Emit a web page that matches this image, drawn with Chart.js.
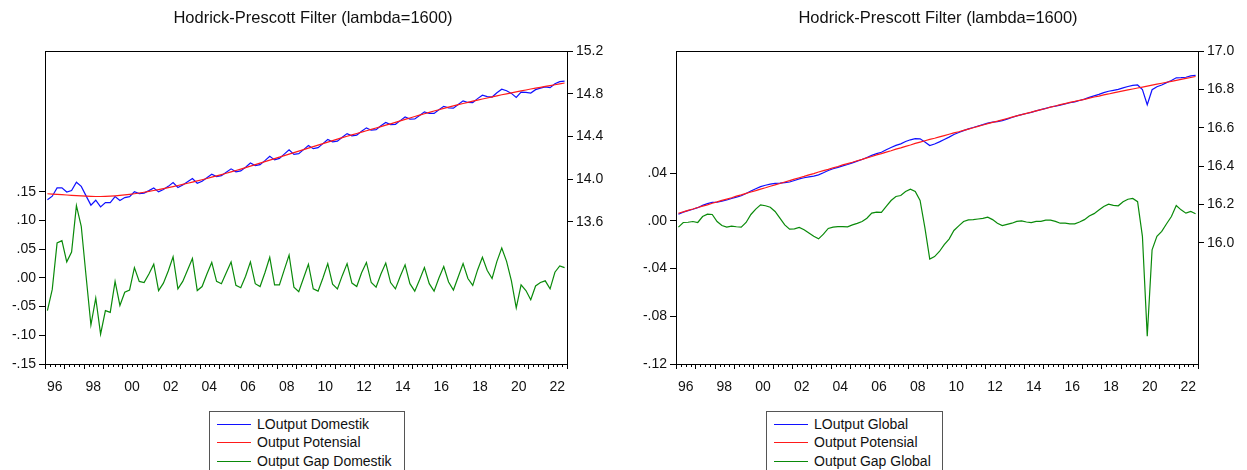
<!DOCTYPE html>
<html>
<head>
<meta charset="utf-8">
<script src="https://cdn.jsdelivr.net/npm/chart.js@4.4.1/dist/chart.umd.min.js"></script>
<style>
  html, body { margin: 0; padding: 0; background: #fff; }
  body { width: 1247px; height: 470px; position: relative; overflow: hidden; font-family: "Liberation Sans", Arial, sans-serif; }
  .wrap { position: absolute; top: 0; height: 400px; }
  .title { position: absolute; top: 8px; font-size: 16.5px; color: #111; white-space: nowrap; transform: translateX(-50%); }
  .legend { position: absolute; top: 411px; height: 80px; border: 1px solid #555; background: #fff; font-size: 14px; color: #111; }
  .legend .row { position: absolute; left: 0; height: 18px; white-space: nowrap; }
  .legend .sw { position: absolute; top: 9px; width: 34px; height: 0; border-top: 1px solid; }
  .legend .tx { position: absolute; top: 0; line-height: 18px; }
</style>
</head>
<body>
<div class="wrap" style="left:0;width:620px"><canvas id="c1"></canvas></div>
<div class="wrap" style="left:620px;width:627px"><canvas id="c2"></canvas></div>
<div class="title" id="t1" style="left:313px"></div>
<div class="title" id="t2" style="left:938px"></div>
<div class="legend" id="lg1" style="left:209px;width:194px"></div>
<div class="legend" id="lg2" style="left:766px;width:175px"></div>
<script>
// ---------- DATA ----------
const chartTitle = "Hodrick-Prescott Filter (lambda=1600)";
const quarters = [];
for (let y = 1996; y <= 2022; y++) for (let q = 1; q <= 4; q++) quarters.push(y + "Q" + q);
const yearTickLabels = ["96","98","00","02","04","06","08","10","12","14","16","18","20","22"];

const seriesNamesDom = ["LOutput Domestik", "Output Potensial", "Output Gap Domestik"];
const seriesNamesGlob = ["LOutput Global", "Output Potensial", "Output Gap Global"];

// Domestic (left chart): level and trend on right axis, gap on left axis
const domLevel = [
13.806,13.840,13.918,13.919,13.879,13.893,13.971,13.932,13.843,13.756,13.802,13.739,13.781,13.780,13.837,13.799,
13.827,13.836,13.881,13.864,13.869,13.892,13.917,13.880,13.902,13.932,13.967,13.921,13.944,13.975,14.006,13.961,
13.979,14.013,14.045,14.024,14.032,14.064,14.096,14.068,14.077,14.111,14.150,14.126,14.135,14.173,14.214,14.180,
14.194,14.234,14.274,14.232,14.238,14.276,14.314,14.285,14.295,14.332,14.371,14.349,14.355,14.392,14.426,14.405,
14.412,14.449,14.480,14.458,14.463,14.499,14.531,14.510,14.513,14.548,14.582,14.562,14.563,14.596,14.630,14.615,
14.615,14.650,14.682,14.667,14.665,14.699,14.733,14.718,14.717,14.754,14.786,14.773,14.769,14.809,14.842,14.828,
14.803,14.765,14.814,14.813,14.806,14.838,14.852,14.863,14.857,14.894,14.913,14.918];
const domTrend = [
13.863,13.860,13.857,13.854,13.851,13.848,13.845,13.842,13.840,13.838,13.837,13.837,13.838,13.840,13.843,13.847,
13.852,13.857,13.863,13.870,13.877,13.885,13.893,13.902,13.911,13.920,13.930,13.940,13.950,13.961,13.972,13.983,
13.994,14.006,14.018,14.030,14.042,14.055,14.068,14.081,14.094,14.108,14.122,14.136,14.150,14.164,14.178,14.192,
14.206,14.220,14.234,14.248,14.262,14.276,14.290,14.304,14.318,14.332,14.346,14.360,14.374,14.388,14.401,14.414,
14.427,14.440,14.453,14.466,14.479,14.492,14.505,14.518,14.532,14.545,14.559,14.572,14.586,14.599,14.612,14.625,
14.638,14.650,14.662,14.674,14.686,14.697,14.708,14.719,14.730,14.740,14.750,14.760,14.770,14.780,14.790,14.799,
14.808,14.817,14.826,14.835,14.844,14.852,14.860,14.868,14.876,14.884,14.892,14.900];
const domGap = [
-0.057,-0.020,0.061,0.065,0.028,0.045,0.126,0.090,0.003,-0.082,-0.035,-0.098,-0.057,-0.060,-0.006,-0.048,
-0.025,-0.021,0.018,-0.006,-0.008,0.007,0.024,-0.022,-0.009,0.012,0.037,-0.019,-0.006,0.014,0.034,-0.022,
-0.015,0.007,0.027,-0.006,-0.010,0.009,0.028,-0.013,-0.017,0.003,0.028,-0.010,-0.015,0.009,0.036,-0.012,
-0.012,0.014,0.040,-0.016,-0.024,0.000,0.024,-0.019,-0.023,0.000,0.025,-0.011,-0.019,0.004,0.025,-0.009,
-0.015,0.009,0.027,-0.008,-0.016,0.007,0.026,-0.008,-0.019,0.003,0.023,-0.010,-0.023,-0.003,0.018,-0.010,
-0.023,0.000,0.020,-0.007,-0.021,0.002,0.025,-0.001,-0.013,0.014,0.036,0.013,-0.001,0.029,0.052,0.029,
-0.005,-0.052,-0.012,-0.022,-0.038,-0.014,-0.008,-0.005,-0.019,0.010,0.021,0.018];

// Global (right chart)
const globLevel = [
16.149,16.160,16.168,16.175,16.183,16.195,16.204,16.211,16.212,16.217,16.223,16.231,16.238,16.245,16.257,16.270,
16.282,16.293,16.300,16.306,16.310,16.311,16.314,16.317,16.325,16.333,16.339,16.344,16.348,16.354,16.365,16.377,
16.386,16.393,16.401,16.408,16.417,16.426,16.434,16.445,16.456,16.465,16.472,16.485,16.497,16.508,16.516,16.528,
16.537,16.543,16.542,16.526,16.507,16.515,16.526,16.539,16.551,16.565,16.575,16.585,16.594,16.601,16.609,16.616,
16.624,16.629,16.632,16.637,16.645,16.653,16.662,16.668,16.674,16.680,16.688,16.694,16.701,16.708,16.713,16.718,
16.724,16.730,16.735,16.742,16.749,16.758,16.766,16.774,16.783,16.790,16.795,16.800,16.808,16.815,16.821,16.823,
16.799,16.720,16.798,16.814,16.823,16.835,16.846,16.860,16.861,16.863,16.870,16.873];
const globTrend = [
16.154,16.161,16.169,16.176,16.184,16.191,16.198,16.206,16.213,16.221,16.228,16.235,16.243,16.250,16.258,16.265,
16.272,16.280,16.287,16.295,16.302,16.309,16.317,16.324,16.332,16.339,16.346,16.354,16.361,16.369,16.376,16.383,
16.391,16.398,16.406,16.413,16.420,16.428,16.435,16.443,16.450,16.458,16.465,16.473,16.480,16.488,16.495,16.503,
16.510,16.518,16.525,16.532,16.539,16.545,16.552,16.559,16.566,16.573,16.579,16.586,16.593,16.600,16.607,16.614,
16.621,16.628,16.634,16.641,16.648,16.655,16.662,16.668,16.675,16.681,16.688,16.694,16.700,16.707,16.713,16.720,
16.726,16.732,16.737,16.743,16.748,16.754,16.760,16.765,16.771,16.776,16.782,16.787,16.792,16.797,16.802,16.807,
16.812,16.817,16.822,16.827,16.832,16.837,16.842,16.847,16.852,16.857,16.862,16.867];
const globGap = [
-0.0053,-0.0014,-0.0012,-0.0006,-0.0014,0.0036,0.0056,0.0053,-0.0006,-0.0039,-0.0053,-0.0045,-0.0050,-0.0053,-0.0014,0.0053,
0.0098,0.0134,0.0126,0.0114,0.0078,0.0022,-0.0034,-0.0070,-0.0067,-0.0056,-0.0075,-0.0103,-0.0130,-0.0151,-0.0112,-0.0064,
-0.0053,-0.0048,-0.0048,-0.0050,-0.0034,-0.0022,-0.0006,0.0022,0.0064,0.0073,0.0070,0.0120,0.0170,0.0204,0.0212,0.0245,
0.0265,0.0245,0.0170,-0.0060,-0.0320,-0.0300,-0.0257,-0.0200,-0.0153,-0.0081,-0.0042,-0.0006,0.0008,0.0010,0.0015,0.0020,
0.0030,0.0010,-0.0020,-0.0040,-0.0030,-0.0020,-0.0005,0.0000,-0.0010,-0.0015,-0.0005,-0.0005,0.0005,0.0005,-0.0005,-0.0020,
-0.0020,-0.0025,-0.0025,-0.0010,0.0010,0.0040,0.0060,0.0090,0.0120,0.0139,0.0130,0.0126,0.0160,0.0181,0.0187,0.0160,
-0.0130,-0.0968,-0.0243,-0.0130,-0.0089,-0.0025,0.0036,0.0128,0.0092,0.0064,0.0078,0.0059];

const gapTicksDom = [-0.15,-0.10,-0.05,0.00,0.05,0.10,0.15];
const levTicksDom = [13.6,14.0,14.4,14.8,15.2];
const gapTicksGlob = [-0.12,-0.08,-0.04,0.00,0.04];
const levTicksGlob = [16.0,16.2,16.4,16.6,16.8,17.0];

// ---------- HELPERS ----------
const COLORS = ["#1010ff", "#ff1a1a", "#0a8a0a"];
const FONT = '"Liberation Sans", Arial, sans-serif';
Chart.defaults.font.family = FONT;
Chart.defaults.color = "#111";

function qToX(s) { const y = +s.slice(0,4), q = +s.slice(5); return y + (q - 1) / 4 + 0.125; }
const xs = quarters.map(qToX);
const pts = arr => arr.map((v, i) => ({ x: xs[i], y: v }));
function gapFmt(v) {
  const s = Math.abs(v).toFixed(2).replace(/^0/, "");
  return (v < -1e-9 ? "-" : "") + s;
}
const startYear = +quarters[0].slice(0,4);
const endYear = +quarters[quarters.length-1].slice(0,4) + 1;

const frame = {
  id: "frame",
  afterDraw(chart) {
    const { ctx, chartArea: a, scales } = chart;
    const x = scales.x;
    ctx.save();
    ctx.strokeStyle = "#000";
    ctx.lineWidth = 1;
    ctx.beginPath();
    for (let k = 0; k <= (endYear - startYear) * 4; k++) {
      const px = Math.round(x.getPixelForValue(startYear + k / 4)) + 0.5;
      const len = (k % 4 === 0) ? 5 : 3;
      ctx.moveTo(px, a.bottom);
      ctx.lineTo(px, a.bottom + len);
    }
    ctx.stroke();
    ctx.strokeRect(Math.round(a.left) + 0.5, Math.round(a.top) + 0.5, Math.round(a.right - a.left), Math.round(a.bottom - a.top));
    ctx.restore();
  }
};

function makeChart(id, names, level, trend, gap, gapMin, gapMax, gapTicks, levMin, levMax, levTicks, leftW, rightW) {
  const labelTicks = yearTickLabels.map((l, i) => ({ value: startYear + 2 * i + 0.5, label: l }));
  return new Chart(document.getElementById(id), {
    type: "line",
    data: {
      datasets: [
        { label: names[0], data: pts(level), yAxisID: "yLev", borderColor: COLORS[0], borderWidth: 1.2, pointRadius: 0, order: 3 },
        { label: names[1], data: pts(trend), yAxisID: "yLev", borderColor: COLORS[1], borderWidth: 1.2, pointRadius: 0, order: 2 },
        { label: names[2], data: pts(gap), yAxisID: "yGap", borderColor: COLORS[2], borderWidth: 1.2, pointRadius: 0, order: 1 }
      ]
    },
    options: {
      responsive: true, maintainAspectRatio: false, animation: false,
      layout: { padding: { top: 51, bottom: 0, left: 0, right: 0 } },
      plugins: { legend: { display: false }, tooltip: { enabled: false }, title: { display: false } },
      elements: { line: { tension: 0 } },
      scales: {
        x: {
          type: "linear", min: startYear, max: endYear,
          afterBuildTicks: s => { s.ticks = labelTicks.map(t => ({ value: t.value })); },
          afterFit: s => { s.height = 36; },
          grid: { display: false },
          border: { display: true, color: "#000", width: 1 },
          ticks: {
            autoSkip: false, maxRotation: 0, padding: 7, font: { size: 14 }, color: "#111",
            callback: v => { const t = labelTicks.find(t => Math.abs(t.value - v) < 1e-6); return t ? t.label : ""; }
          }
        },
        yGap: {
          type: "linear", position: "left", min: gapMin, max: gapMax,
          afterBuildTicks: s => { s.ticks = gapTicks.map(v => ({ value: v })); },
          afterFit: s => { s.width = leftW; },
          grid: { drawOnChartArea: false, drawTicks: true, tickLength: 6, tickColor: "#000" },
          border: { display: true, color: "#000", width: 1 },
          ticks: { padding: 3, font: { size: 14 }, color: "#111", callback: v => gapFmt(v) }
        },
        yLev: {
          type: "linear", position: "right", min: levMin, max: levMax,
          afterBuildTicks: s => { s.ticks = levTicks.map(v => ({ value: v })); },
          afterFit: s => { s.width = rightW; },
          grid: { drawOnChartArea: false, drawTicks: true, tickLength: 6, tickColor: "#000" },
          border: { display: true, color: "#000", width: 1 },
          ticks: { padding: 3, font: { size: 14 }, color: "#111", callback: v => v.toFixed(1) }
        }
      }
    },
    plugins: [frame]
  });
}

makeChart("c1", seriesNamesDom, domLevel, domTrend, domGap, -0.15, 0.3956, gapTicksDom, 12.268, 15.2, levTicksDom, 45, 53);
makeChart("c2", seriesNamesGlob, globLevel, globTrend, globGap, -0.12, 0.1423, gapTicksGlob, 15.368, 17.0, levTicksGlob, 56, 49);

document.getElementById("t1").textContent = chartTitle;
document.getElementById("t2").textContent = chartTitle;

function buildLegend(elId, names, swLeft, txLeft) {
  const el = document.getElementById(elId);
  names.forEach((n, i) => {
    const row = document.createElement("div");
    row.className = "row";
    row.style.top = (3 + i * 18.3) + "px";
    const sw = document.createElement("div");
    sw.className = "sw"; sw.style.left = swLeft + "px"; sw.style.borderTopColor = COLORS[i];
    const tx = document.createElement("div");
    tx.className = "tx"; tx.style.left = txLeft + "px"; tx.textContent = n;
    row.appendChild(sw); row.appendChild(tx); el.appendChild(row);
  });
}
buildLegend("lg1", seriesNamesDom, 7, 47);
buildLegend("lg2", seriesNamesGlob, 7, 47);
</script>
</body>
</html>
